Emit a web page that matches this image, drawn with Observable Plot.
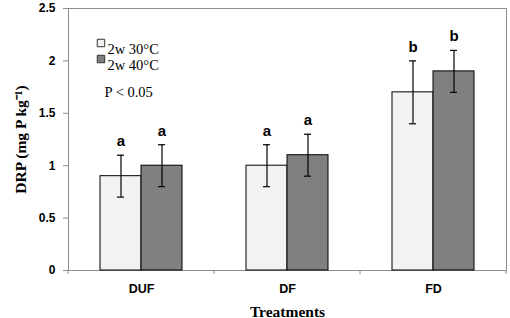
<!DOCTYPE html>
<html>
<head>
<meta charset="utf-8">
<script src="https://cdn.jsdelivr.net/npm/d3@7"></script>
<script src="https://cdn.jsdelivr.net/npm/@observablehq/plot@0.6"></script>
<style>
  html, body { margin: 0; padding: 0; background: #fff; }
  #chart { width: 510px; height: 318px; }
</style>
</head>
<body>
<div id="chart"></div>
<script>
const treatments = ["DUF", "DF", "FD"];
const seriesNames = ["2w 30°C", "2w 40°C"];
const seriesColors = ["#f2f2f2", "#808080"];
const means30 = [0.9, 1.0, 1.7];
const means40 = [1.0, 1.1, 1.9];
const err30 = [0.2, 0.2, 0.3];
const err40 = [0.2, 0.2, 0.2];
const letters30 = ["a", "a", "b"];
const letters40 = ["a", "a", "b"];
const yTicks = [0, 0.5, 1, 1.5, 2, 2.5];

const rows = [];
treatments.forEach((t, i) => {
  rows.push({treatment: t, series: seriesNames[0], value: means30[i], err: err30[i], letter: letters30[i]});
  rows.push({treatment: t, series: seriesNames[1], value: means40[i], err: err40[i], letter: letters40[i]});
});

const sans = "'Liberation Sans', Arial, sans-serif";
const serif = "'Liberation Serif', 'Times New Roman', serif";

const legendMarks = seriesNames.flatMap((s, i) => [
  Plot.dot([s], {frameAnchor: "top-left", dx: 32.5, dy: 34.5 + 16 * i, symbol: "square", r: 4.2,
    fill: seriesColors[i], stroke: "#333", strokeWidth: 1, facet: "super"}),
  Plot.text([s], {frameAnchor: "top-left", dx: 39, dy: 35 + 16 * i, text: d => d, textAnchor: "start",
    fontFamily: serif, fontSize: 14.5, fill: "#000", facet: "super"})
]);

const chart = Plot.plot({
  width: 510,
  height: 318,
  marginLeft: 67,
  marginRight: 3,
  marginTop: 8,
  marginBottom: 48,
  style: {background: "#fff", color: "#000"},
  fx: {domain: treatments, padding: 0},
  x: {domain: seriesNames, paddingInner: 0, paddingOuter: 0.746, axis: null},
  y: {domain: [0, 2.5]},
  color: {domain: seriesNames, range: seriesColors},
  marks: [
    Plot.frame({stroke: "#8c8c8c", facet: "super"}),
    Plot.barY(rows, {fx: "treatment", x: "series", y: "value", fill: "series", stroke: "#000", strokeWidth: 1}),
    Plot.ruleX(rows, {fx: "treatment", x: "series", y1: d => d.value - d.err, y2: d => d.value + d.err, stroke: "#000", strokeWidth: 1.2}),
    Plot.tickY(rows, {fx: "treatment", x: "series", y: d => d.value + d.err, insetLeft: 17, insetRight: 17, stroke: "#000", strokeWidth: 1.2}),
    Plot.tickY(rows, {fx: "treatment", x: "series", y: d => d.value - d.err, insetLeft: 17, insetRight: 17, stroke: "#000", strokeWidth: 1.2}),
    Plot.text(rows, {fx: "treatment", x: "series", y: d => d.value + d.err, text: "letter", dy: -14,
      fontFamily: sans, fontWeight: "bold", fontSize: 15, fill: "#000"}),
    Plot.axisY({ticks: yTicks, tickFormat: d => String(d), tickSize: 5, tickPadding: 8, stroke: "#8c8c8c",
      fontFamily: sans, fontWeight: "bold", fontSize: 12, label: null}),
    Plot.axisY({ticks: [], label: "DRP (mg P kg⁻¹)", labelAnchor: "center", labelArrow: false, labelOffset: 54,
      fontFamily: serif, fontWeight: "bold", fontSize: 15.5}),
    Plot.axisFx({anchor: "bottom", tickSize: 0, tickPadding: 14, fontFamily: sans, fontWeight: "bold", fontSize: 12.5, label: null}),
    Plot.axisFx({anchor: "bottom", ticks: [], label: "Treatments", labelAnchor: "center", labelArrow: false, labelOffset: 46,
      fontFamily: serif, fontWeight: "bold", fontSize: 15.5}),
    ...legendMarks,
    Plot.text(["P < 0.05"], {frameAnchor: "top-left", dx: 36, dy: 78, text: d => d, textAnchor: "start",
      fontFamily: serif, fontSize: 14.5, fill: "#000", facet: "super"})
  ]
});

// Category boundary ticks on the x axis, computed from the fx scale
const fxScale = chart.scale("fx");
const yScale = chart.scale("y");
const y0 = yScale.apply(0);
const bw = fxScale.bandwidth;
const edges = treatments.map(t => fxScale.apply(t));
edges.push(fxScale.apply(treatments[treatments.length - 1]) + bw);
const svg = d3.select(chart.tagName.toLowerCase() === "svg" ? chart : chart.querySelector("svg"));
svg.append("g").selectAll("line").data(edges).join("line")
  .attr("x1", d => d).attr("x2", d => d)
  .attr("y1", y0).attr("y2", y0 + 4)
  .attr("stroke", "#8c8c8c").attr("stroke-width", 1);

document.getElementById("chart").appendChild(chart);
</script>
</body>
</html>
